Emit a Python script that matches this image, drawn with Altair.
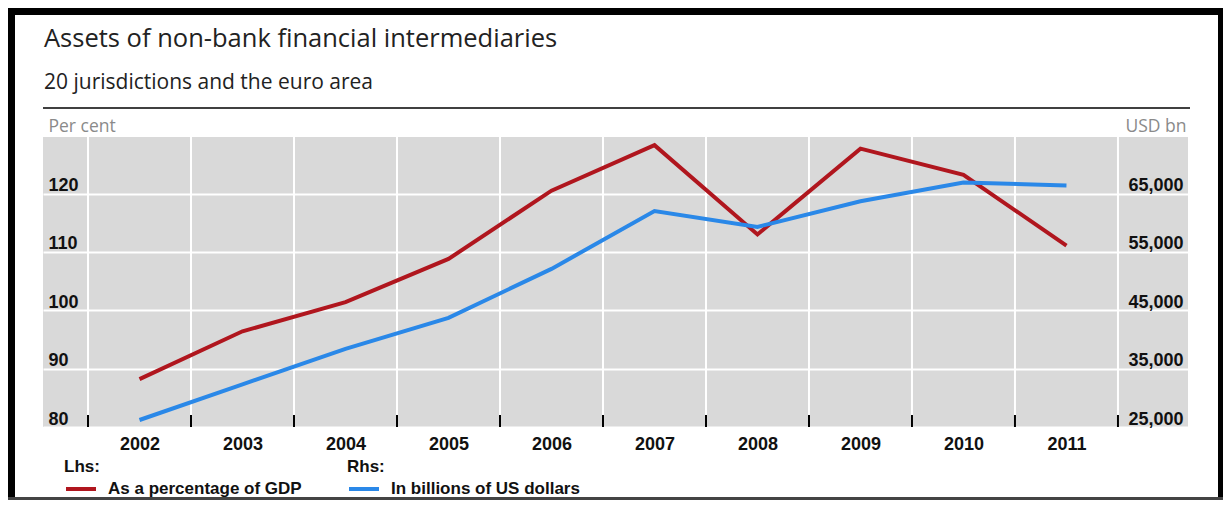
import altair as alt
import pandas as pd

# ---- data ----
years = [2002, 2003, 2004, 2005, 2006, 2007, 2008, 2009, 2010, 2011]
pct_gdp = [88.2, 96.4, 101.4, 108.8, 120.5, 128.3, 113.0, 127.7, 123.2, 111.1]
usd_bn = [26200, 32300, 38400, 43700, 52100, 62000, 59300, 63700, 66900, 66400]
year_bounds = [2001.5, 2002.5, 2003.5, 2004.5, 2005.5, 2006.5, 2007.5, 2008.5, 2009.5, 2010.5, 2011.5]
left_ticks = [80, 90, 100, 110, 120]
right_ticks = [25000, 35000, 45000, 55000, 65000]

title_text = "Assets of non-bank financial intermediaries"
subtitle_text = "20 jurisdictions and the euro area"
lhs_label = "As a percentage of GDP"
rhs_label = "In billions of US dollars"

RED = "#b0161e"
BLUE = "#2a88e8"
GRAY_BG = "#d9d9d9"
W, H = 1145, 290
SVG_W, SVG_H = 1215, 492
PAD_L, PAD_T = 35, 129
LBL_FONT = "Liberation Sans"
TXT_FONT = "Open Sans"

x_dom = [2001.063, 2012.18]
left_dom = [80, 129.7]
right_dom = [25000, 74700]

df = pd.DataFrame({"year": years, "pct": pct_gdp, "usd": usd_bn,
                   "lhs": [lhs_label] * len(years), "rhs": [rhs_label] * len(years)})
bounds_df = pd.DataFrame({"b": year_bounds})
one = pd.DataFrame({"k": [0]})

xscale = alt.Scale(domain=x_dom, nice=False, zero=False)
x_axis = alt.Axis(values=years, format="d", grid=False, ticks=False, tickSize=0, domain=False,
                  labelFont=LBL_FONT, labelFontWeight="bold", labelFontSize=18, labelColor="#111",
                  labelPadding=8, labelFlush=False, title=None)

vgrid = alt.Chart(bounds_df).mark_rule(color="white", strokeWidth=2).encode(
    x=alt.X("b:Q", scale=xscale, axis=x_axis)
)
ticks = alt.Chart(bounds_df).mark_rule(color="black", strokeWidth=2).encode(
    x=alt.X("b:Q", scale=xscale, axis=x_axis),
    y=alt.value(H), y2=alt.value(H - 12)
)

red = alt.Chart(df).mark_line(strokeWidth=4, strokeJoin="miter").encode(
    x=alt.X("year:Q", scale=xscale, axis=x_axis),
    y=alt.Y("pct:Q", scale=alt.Scale(domain=left_dom, nice=False, zero=False),
            axis=alt.Axis(orient="left", values=left_ticks, grid=True, gridColor="white", gridWidth=2,
                          domain=False, ticks=False, tickSize=0, labelAlign="left", labelPadding=-5,
                          labelBaseline="alphabetic", labelOffset=-3, labelFlush=False,
                          labelFont=LBL_FONT, labelFontWeight="bold", labelFontSize=18, labelColor="#111",
                          title="Per cent", titleAngle=0, titleAlign="left", titleBaseline="alphabetic",
                          titleX=5, titleY=-6, titleFont=TXT_FONT, titleFontWeight="normal",
                          titleFontSize=17.5, titleColor="#8a8a8a")),
    color=alt.Color("lhs:N", scale=alt.Scale(domain=[lhs_label], range=[RED]),
                    legend=alt.Legend(title="Lhs:", orient="none", legendX=21, legendY=322))
)

blue = alt.Chart(df).mark_line(strokeWidth=4, strokeJoin="miter").encode(
    x=alt.X("year:Q", scale=xscale, axis=x_axis),
    y=alt.Y("usd:Q", scale=alt.Scale(domain=right_dom, nice=False, zero=False),
            axis=alt.Axis(orient="right", values=right_ticks, format=",d", grid=False,
                          domain=False, ticks=False, tickSize=0, labelAlign="right", labelPadding=-5,
                          labelBaseline="alphabetic", labelOffset=-3, labelFlush=False,
                          labelFont=LBL_FONT, labelFontWeight="bold", labelFontSize=18, labelColor="#111",
                          title="USD bn", titleAngle=0, titleAlign="right", titleBaseline="alphabetic",
                          titleX=-2, titleY=-6, titleFont=TXT_FONT, titleFontWeight="normal",
                          titleFontSize=17.5, titleColor="#8a8a8a")),
    color=alt.Color("rhs:N", scale=alt.Scale(domain=[rhs_label], range=[BLUE]),
                    legend=alt.Legend(title="Rhs:", orient="none", legendX=304, legendY=322))
)

title = alt.Chart(one).mark_text(align="left", baseline="alphabetic", font=TXT_FONT,
                                 fontSize=25.5, color="#222").encode(
    x=alt.value(1), y=alt.value(-90), text=alt.value(title_text))
subtitle = alt.Chart(one).mark_text(align="left", baseline="alphabetic", font=TXT_FONT,
                                    fontSize=21, color="#222").encode(
    x=alt.value(1), y=alt.value(-48), text=alt.value(subtitle_text))
sep = alt.Chart(one).mark_rule(color="black", strokeWidth=1.5).encode(
    x=alt.value(0), x2=alt.value(1147), y=alt.value(-29))

frame_top = alt.Chart(one).mark_rule(color="black", strokeWidth=7).encode(
    x=alt.value(-PAD_L), x2=alt.value(SVG_W - PAD_L), y=alt.value(-PAD_T + 3.5))
frame_left = alt.Chart(one).mark_rule(color="black", strokeWidth=7).encode(
    x=alt.value(-PAD_L + 3.5), y=alt.value(-PAD_T), y2=alt.value(SVG_H - PAD_T))
frame_right = alt.Chart(one).mark_rule(color="black", strokeWidth=5).encode(
    x=alt.value(SVG_W - PAD_L - 2.5), y=alt.value(-PAD_T), y2=alt.value(SVG_H - PAD_T))
frame_bottom = alt.Chart(one).mark_rule(color="#444", strokeWidth=3).encode(
    x=alt.value(-PAD_L), x2=alt.value(SVG_W - PAD_L), y=alt.value(SVG_H - PAD_T - 1.5))

chart = alt.layer(
    vgrid, ticks, red, blue, title, subtitle, sep,
    frame_top, frame_left, frame_right, frame_bottom
).resolve_scale(
    y="independent", color="independent"
).properties(
    width=W, height=H,
    autosize=alt.AutoSizeParams(type="none"),
    padding={"left": PAD_L, "top": PAD_T, "right": SVG_W - PAD_L - W, "bottom": SVG_H - PAD_T - H},
    background="white",
).configure_view(
    fill=GRAY_BG, stroke=None
).configure_legend(
    titleFont=LBL_FONT, titleFontWeight="bold", titleFontSize=17, titleColor="#111",
    labelFont=LBL_FONT, labelFontWeight="bold", labelFontSize=17, labelColor="#111",
    symbolType="stroke", symbolStrokeWidth=4, symbolSize=900, labelOffset=10,
    padding=0, titlePadding=-4, rowPadding=0, labelLimit=400
)

chart.save("out.html", embed_options={"renderer": "svg", "actions": False})
